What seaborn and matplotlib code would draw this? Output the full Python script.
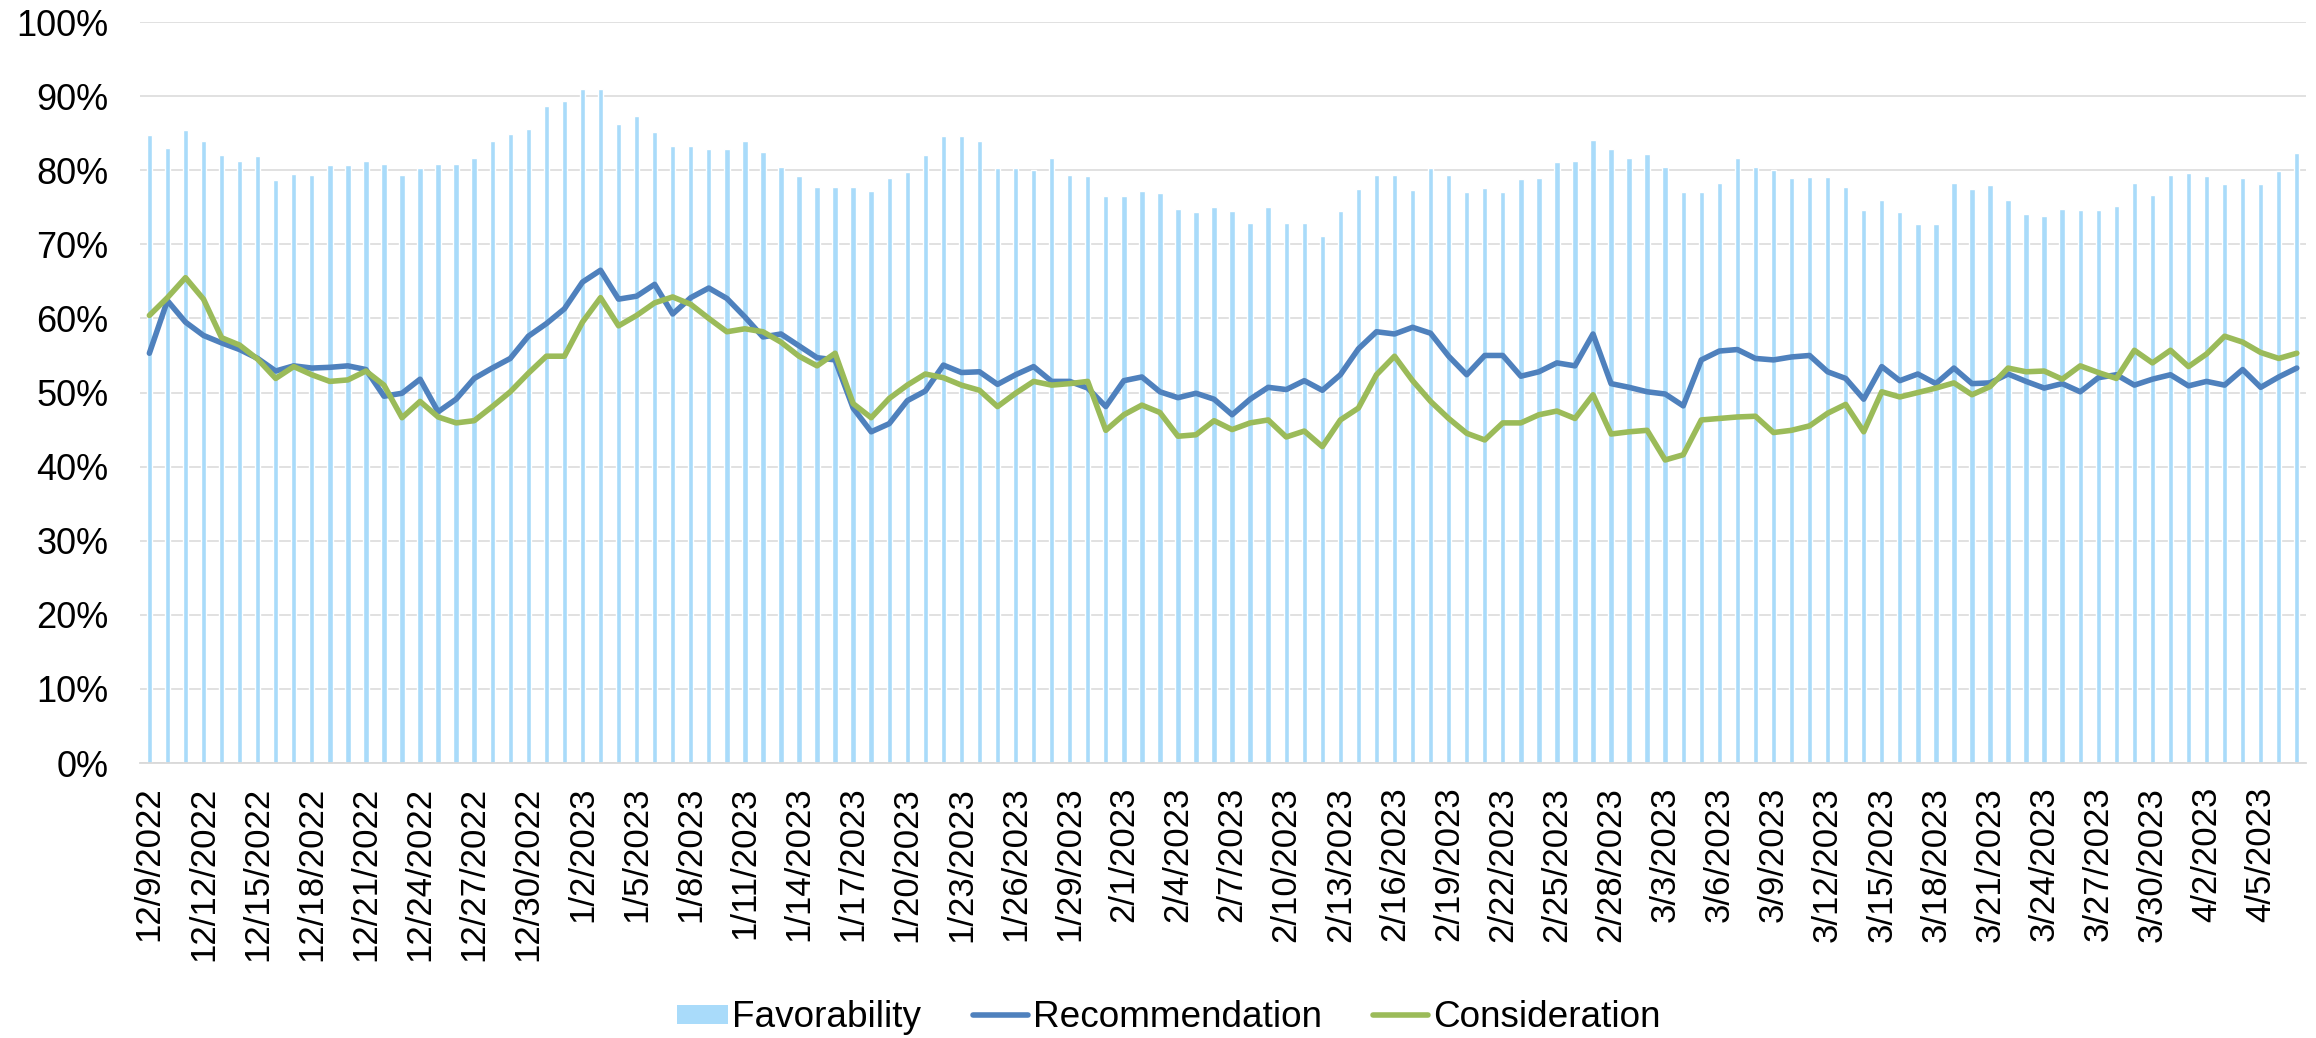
import numpy as np
import pandas as pd
import matplotlib
matplotlib.use('Agg')
import matplotlib.pyplot as plt
import seaborn as sns
from matplotlib.ticker import PercentFormatter
from matplotlib.patches import Patch, Rectangle
from matplotlib.lines import Line2D
from matplotlib.legend_handler import HandlerPatch

# ---------- data (percent) ----------
dates = pd.date_range('2022-12-09', '2023-04-07', freq='D')
date_labels = [f"{d.month}/{d.day}/{d.year}" for d in dates]

favorability = [
    84.8, 83.0, 85.4, 83.9, 82.0, 81.2, 81.9, 78.7, 79.5, 79.3, 80.7, 80.7, 81.2, 80.8, 79.4,
    80.3, 80.8, 80.8, 81.6, 83.9, 84.9, 85.6, 88.6, 89.3, 91.0, 91.0, 86.2, 87.3, 85.2, 83.3,
    83.3, 82.9, 82.9, 83.9, 82.5, 80.5, 79.2, 77.8, 77.8, 77.8, 77.2, 79.0, 79.7, 82.1, 84.6,
    84.6, 84.0, 80.3, 80.3, 80.0, 81.6, 79.4, 79.2, 76.5, 76.5, 77.2, 76.9, 74.7, 74.3, 75.0,
    74.5, 72.9, 75.0, 72.9, 72.9, 71.1, 74.5, 77.5, 79.4, 79.4, 77.3, 80.3, 79.4, 77.1, 77.6,
    77.0, 78.8, 79.0, 81.1, 81.3, 84.1, 82.8, 81.6, 82.2, 80.4, 77.0, 77.0, 78.3, 81.7, 80.5,
    80.0, 79.0, 79.1, 79.1, 77.7, 74.6, 76.0, 74.3, 72.8, 72.8, 78.3, 77.5, 78.0, 76.0, 74.1,
    73.8, 74.8, 74.6, 74.6, 75.2, 78.3, 76.6, 79.4, 79.6, 79.2, 78.1, 78.9, 78.1, 79.9, 82.3,
]

recommendation = [
    55.3, 62.4, 59.5, 57.7, 56.7, 55.8, 54.6, 52.9, 53.6, 53.3, 53.4, 53.6, 53.1, 49.5, 49.9,
    51.8, 47.4, 49.1, 51.9, 53.3, 54.6, 57.6, 59.3, 61.3, 64.9, 66.5, 62.6, 63.0, 64.6, 60.6,
    62.8, 64.1, 62.7, 60.2, 57.5, 57.9, 56.3, 54.7, 54.4, 47.9, 44.7, 45.8, 48.9, 50.2, 53.7,
    52.7, 52.8, 51.1, 52.4, 53.5, 51.5, 51.5, 50.6, 48.1, 51.6, 52.1, 50.1, 49.3, 49.9, 49.1,
    47.0, 49.1, 50.7, 50.4, 51.6, 50.3, 52.4, 55.9, 58.2, 57.9, 58.8, 58.0, 54.9, 52.4, 55.0,
    55.0, 52.2, 52.8, 54.0, 53.6, 57.9, 51.2, 50.7, 50.1, 49.8, 48.2, 54.4, 55.6, 55.8, 54.6,
    54.4, 54.8, 55.0, 52.8, 51.9, 49.1, 53.5, 51.6, 52.5, 51.2, 53.3, 51.2, 51.3, 52.5, 51.5,
    50.6, 51.2, 50.1, 52.0, 52.4, 51.0, 51.8, 52.4, 50.9, 51.5, 51.0, 53.1, 50.7, 52.1, 53.3,
]

consideration = [
    60.4, 62.8, 65.5, 62.6, 57.4, 56.4, 54.5, 51.9, 53.5, 52.4, 51.5, 51.7, 52.9, 51.0, 46.6,
    48.8, 46.7, 45.9, 46.2, 48.1, 50.1, 52.6, 54.9, 54.9, 59.5, 62.8, 59.0, 60.4, 62.1, 62.9,
    61.9, 60.0, 58.2, 58.6, 58.2, 56.8, 54.9, 53.6, 55.3, 48.5, 46.6, 49.2, 51.0, 52.5, 52.0,
    51.0, 50.3, 48.1, 49.9, 51.5, 51.0, 51.2, 51.5, 44.9, 47.0, 48.3, 47.3, 44.1, 44.3, 46.2,
    45.0, 45.9, 46.3, 44.0, 44.8, 42.7, 46.3, 47.9, 52.4, 54.9, 51.6, 48.8, 46.5, 44.5, 43.6,
    45.9, 45.9, 47.0, 47.5, 46.5, 49.7, 44.4, 44.7, 44.9, 40.9, 41.6, 46.3, 46.5, 46.7, 46.8,
    44.6, 44.9, 45.5, 47.2, 48.4, 44.7, 50.1, 49.4, 50.0, 50.6, 51.3, 49.7, 50.8, 53.3, 52.8,
    52.9, 51.8, 53.6, 52.7, 51.9, 55.7, 54.0, 55.7, 53.5, 55.2, 57.6, 56.8, 55.4, 54.6, 55.3,
]

df = pd.DataFrame({
    'date': date_labels,
    'pos': np.arange(len(date_labels)),
    'Favorability': favorability,
    'Recommendation': recommendation,
    'Consideration': consideration,
})

bar_color = '#A9DBFA'
rec_color = '#4F81BD'
con_color = '#9BBB59'

sns.set_style('white')
plt.rcParams['font.family'] = ['Liberation Sans', 'DejaVu Sans']
plt.rcParams['text.color'] = 'black'

fig = plt.figure(figsize=(23.16, 10.38), dpi=100)
ax = fig.add_axes([0.0606, 0.2649, 0.9350, 0.7139])

# bars
sns.barplot(data=df, x='date', y='Favorability', color=bar_color, saturation=1,
            width=0.30, ax=ax, zorder=2)

# lines
sns.lineplot(data=df, x='pos', y='Recommendation', color=rec_color, linewidth=4.0,
             ax=ax, zorder=3)
sns.lineplot(data=df, x='pos', y='Consideration', color=con_color, linewidth=4.0,
             ax=ax, zorder=4)

# axes styling
ax.set_xlim(-0.5, len(df) - 0.5)
ax.set_ylim(0, 100)
ax.set_yticks(np.arange(0, 101, 10))
ax.yaxis.set_major_formatter(PercentFormatter(100, decimals=0))
ax.set_xticks(df['pos'][::3])
ax.set_xticklabels(df['date'][::3], rotation=90)
ax.set_xlabel('')
ax.set_ylabel('')
ax.tick_params(axis='x', length=0, pad=17, labelsize=25, labelcolor='black')
ax.tick_params(axis='y', length=0, pad=23, labelsize=26, labelcolor='black')

ax.yaxis.grid(True, color='#D9D9D9', linewidth=1.1)
ax.set_axisbelow(True)
for s in ['top', 'right', 'left']:
    ax.spines[s].set_visible(False)
ax.spines['bottom'].set_color('#D9D9D9')
ax.spines['bottom'].set_linewidth(1.3)


# rectangular legend key for the bars
def bar_key(legend, orig_handle, xdescent, ydescent, width, height, fontsize):
    w = width * 0.93
    h = height * 0.73
    return Rectangle((-xdescent + width - w, -ydescent + (height - h) / 2), w, h)


handles = [
    Patch(facecolor=bar_color, edgecolor='none', label='Favorability'),
    Line2D([0], [0], color=rec_color, linewidth=4.0, label='Recommendation'),
    Line2D([0], [0], color=con_color, linewidth=4.0, label='Consideration'),
]
fig.legend(handles=handles, loc='center', bbox_to_anchor=(0.5037, 0.0193),
           ncol=3, frameon=False, fontsize=26.6, handlelength=1.49, handletextpad=0.12,
           columnspacing=1.4, labelcolor='black',
           handler_map={Patch: HandlerPatch(patch_func=bar_key)})

fig.savefig('out.png', dpi=100)
